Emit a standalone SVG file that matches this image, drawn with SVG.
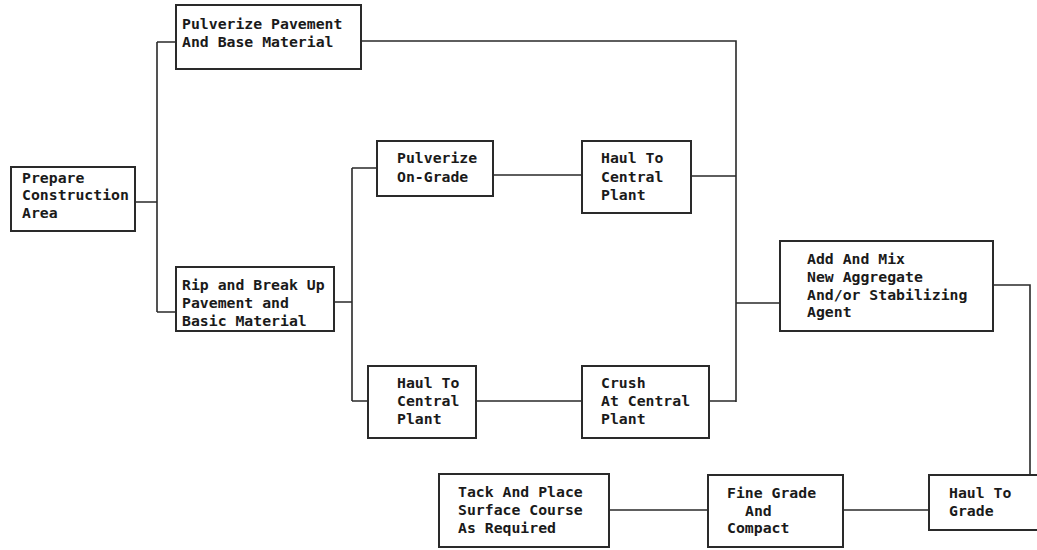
<svg xmlns="http://www.w3.org/2000/svg" width="1037" height="550" viewBox="0 0 1037 550">
<style>
.box{fill:#fff;stroke:#2a2a2a;stroke-width:2}
.t{font-family:"DejaVu Sans Mono","Liberation Mono",monospace;font-size:14.8px;fill:#1a1a1a;font-weight:bold}
.c{fill:none;stroke:#2a2a2a;stroke-width:1.6}
</style>
<rect width="1037" height="550" fill="#fff"/>
<g id="connectors">
<path class="c" d="M135,202 H157 M157,42 V312 M157,42 H176 M157,312 H176"/>
<path class="c" d="M334,302 H352 M352,168 V401 M352,168 H377 M352,401 H368"/>
<path class="c" d="M493,175 H582 M476,401 H582"/>
<path class="c" d="M361,41 H736 V402 M691,176 H736 M709,401 H736 M736,303 H780"/>
<path class="c" d="M993,285 H1030 V475"/>
<path class="c" d="M843,510 H929 M609,510 H708"/>
</g>
<g id="prepare"><rect class="box" x="11" y="167" width="124" height="64"/>
<text class="t" x="22" y="183">Prepare</text><text class="t" x="22" y="200">Construction</text><text class="t" x="22" y="218">Area</text></g>
<g id="pulverize-pavement"><rect class="box" x="176" y="5" width="185" height="64"/>
<text class="t" x="182" y="29">Pulverize Pavement</text><text class="t" x="182" y="47">And Base Material</text></g>
<g id="rip"><rect class="box" x="176" y="267" width="158" height="64"/>
<text class="t" x="182" y="290">Rip and Break Up</text><text class="t" x="182" y="308">Pavement and</text><text class="t" x="182" y="326">Basic Material</text></g>
<g id="pulverize-ongrade"><rect class="box" x="377" y="141" width="116" height="55"/>
<text class="t" x="397" y="163">Pulverize</text><text class="t" x="397" y="182">On-Grade</text></g>
<g id="haul-central-1"><rect class="box" x="582" y="141" width="109" height="72"/>
<text class="t" x="601" y="163">Haul To</text><text class="t" x="601" y="182">Central</text><text class="t" x="601" y="200">Plant</text></g>
<g id="haul-central-2"><rect class="box" x="368" y="366" width="108" height="72"/>
<text class="t" x="397" y="388">Haul To</text><text class="t" x="397" y="406">Central</text><text class="t" x="397" y="424">Plant</text></g>
<g id="crush"><rect class="box" x="582" y="366" width="127" height="72"/>
<text class="t" x="601" y="388">Crush</text><text class="t" x="601" y="406">At Central</text><text class="t" x="601" y="424">Plant</text></g>
<g id="add-mix"><rect class="box" x="780" y="241" width="213" height="90"/>
<text class="t" x="807" y="264">Add And Mix</text><text class="t" x="807" y="282">New Aggregate</text><text class="t" x="807" y="300">And/or Stabilizing</text><text class="t" x="807" y="317">Agent</text></g>
<g id="haul-grade"><rect class="box" x="929" y="475" width="112" height="55"/>
<text class="t" x="949" y="498">Haul To</text><text class="t" x="949" y="516">Grade</text></g>
<g id="fine-grade"><rect class="box" x="708" y="475" width="135" height="72"/>
<text class="t" x="727" y="498">Fine Grade</text><text class="t" x="745" y="516">And</text><text class="t" x="727" y="533">Compact</text></g>
<g id="tack"><rect class="box" x="439" y="474" width="170" height="73"/>
<text class="t" x="458" y="497">Tack And Place</text><text class="t" x="458" y="515">Surface Course</text><text class="t" x="458" y="533">As Required</text></g>
</svg>
